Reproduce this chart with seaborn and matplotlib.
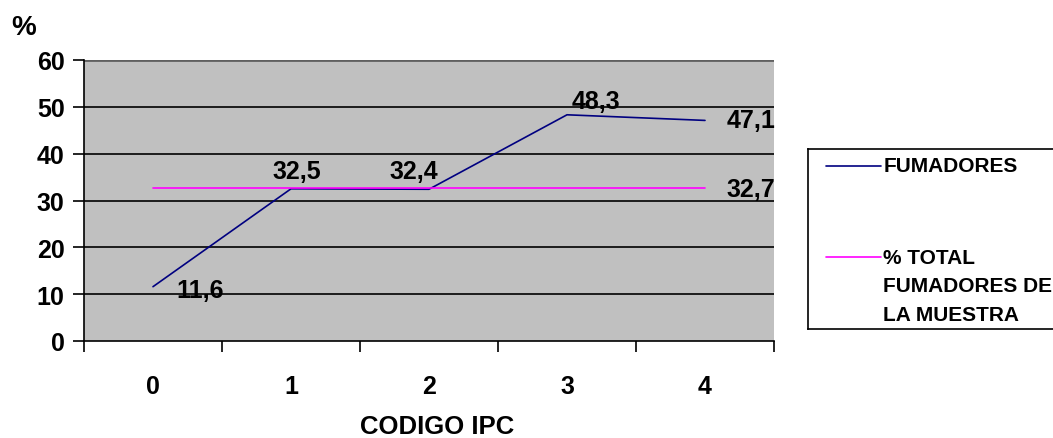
import matplotlib
matplotlib.use("Agg")
import matplotlib.pyplot as plt
import seaborn as sns
import pandas as pd

# data
codigo_ipc = [0, 1, 2, 3, 4]
fumadores = [11.6, 32.5, 32.4, 48.3, 47.1]
total_muestra = [32.7, 32.7, 32.7, 32.7, 32.7]
y_ticks = [0, 10, 20, 30, 40, 50, 60]

sns.set_style("ticks")
plt.rcParams["font.family"] = ["Liberation Sans", "DejaVu Sans"]
plt.rcParams["font.weight"] = "bold"
plt.rcParams["text.color"] = "black"
plt.rcParams["xtick.color"] = "black"
plt.rcParams["ytick.color"] = "black"
plt.rcParams["axes.labelcolor"] = "black"

df = pd.DataFrame({"ipc": codigo_ipc, "fum": fumadores, "total": total_muestra})

fig = plt.figure(figsize=(10.53, 4.39), dpi=100)
ax = fig.add_axes([84 / 1053, 97 / 439, 690 / 1053, 281 / 439])
ax.set_facecolor("#C0C0C0")

sns.lineplot(data=df, x="ipc", y="fum", color="#000080", linewidth=1.2, ax=ax)
sns.lineplot(data=df, x="ipc", y="total", color="#FF00FF", linewidth=1.2, ax=ax)

ax.set_xlim(-0.5, 4.5)
ax.set_ylim(0, 60)
ax.set_yticks(y_ticks)
ax.set_yticklabels([str(v) for v in y_ticks], fontsize=18, fontweight="bold")
for v in y_ticks[1:-1]:
    ax.axhline(v, color="black", linewidth=1.2, zorder=1)
ax.axhline(y_ticks[-1], color="#606060", linewidth=2, zorder=1)
ax.set_xticks(codigo_ipc)
ax.set_xticklabels([str(v) for v in codigo_ipc], fontsize=18, fontweight="bold")
ax.set_xticks([i - 0.5 for i in range(len(codigo_ipc) + 1)], minor=True)
ax.tick_params(axis="x", which="major", length=0, pad=24)
ax.tick_params(axis="x", which="minor", length=8, width=1.2, color="black")
ax.tick_params(axis="y", length=8, width=1.2, color="black", pad=6)
for s in ["top", "right"]:
    ax.spines[s].set_visible(False)
for s in ["left", "bottom"]:
    ax.spines[s].set_color("black")
    ax.spines[s].set_linewidth(1.2)

ax.set_xlabel("CODIGO IPC", fontsize=18.5, fontweight="bold", labelpad=11)
ax.xaxis.set_label_coords(0.512, -0.26)
ax.set_ylabel("")
fig.text(24 / 1053, 1 - 28 / 439, "%", fontsize=20, fontweight="bold", ha="center", va="center")

# data labels
offsets = [(47, -3), (6, 18), (-15, 18), (29, 14), (46, 0)]
for x, y, off in zip(codigo_ipc, fumadores, offsets):
    ax.annotate(f"{y:.1f}".replace(".", ","), (x, y), xytext=off, textcoords="offset pixels",
                ha="center", va="center", fontsize=18, fontweight="bold", annotation_clip=False)
ax.annotate(f"{total_muestra[-1]:.1f}".replace(".", ","), (codigo_ipc[-1], total_muestra[-1]),
            xytext=(46, -1), textcoords="offset pixels", ha="center", va="center",
            fontsize=18, fontweight="bold", annotation_clip=False)

# legend box
lg = fig.add_axes([808 / 1053, 109 / 439, 260 / 1053, 180 / 439])
lg.set_xlim(0, 1)
lg.set_ylim(0, 1)
lg.set_xticks([])
lg.set_yticks([])
lg.set_facecolor("white")
for s in lg.spines.values():
    s.set_color("black")
    s.set_linewidth(1.2)
lg.plot([0.07, 0.28], [0.906, 0.906], color="#000080", linewidth=1.2)
lg.plot([0.07, 0.28], [0.4, 0.4], color="#FF00FF", linewidth=1.2)
lg.text(0.29, 0.906, "FUMADORES", fontsize=15, fontweight="bold", va="center", ha="left")
lg.text(0.29, 0.45, "% TOTAL\nFUMADORES DE\nLA MUESTRA", fontsize=15, fontweight="bold",
        va="top", ha="left", linespacing=1.63)

fig.savefig("out.png", dpi=100)
